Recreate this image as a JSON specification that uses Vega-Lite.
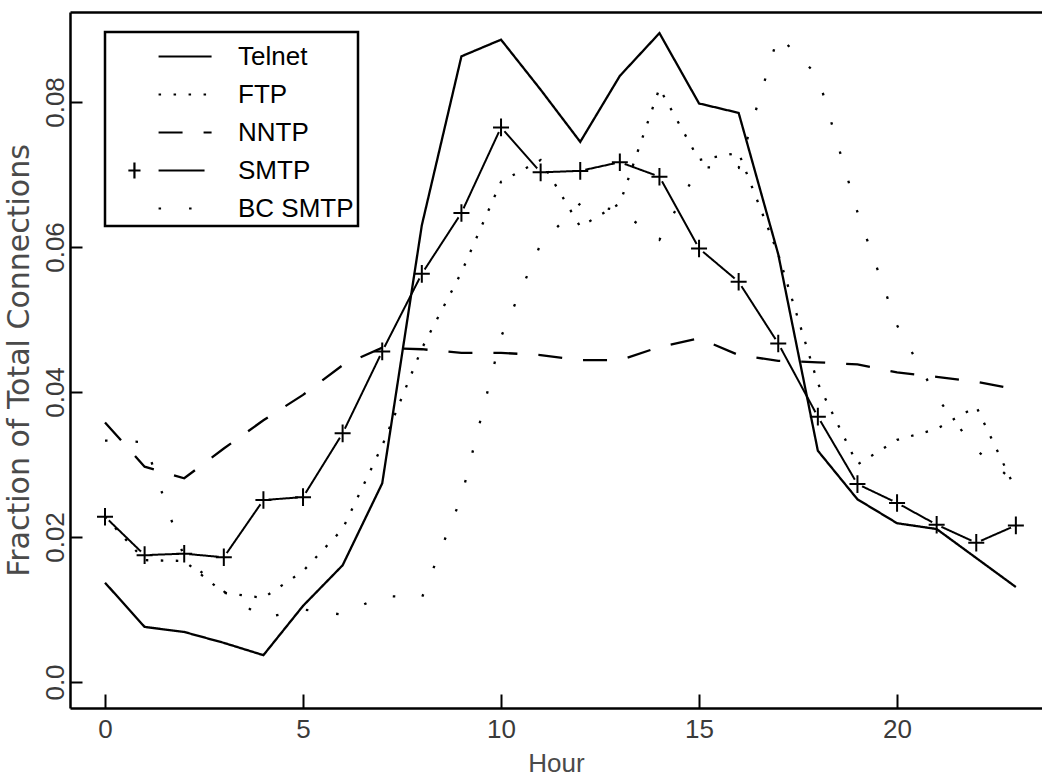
{
  "$schema": "https://vega.github.io/schema/vega-lite/v6.json",
  "width": 972,
  "height": 696,
  "autosize": {"type": "none"},
  "padding": {"left": 70, "top": 12, "right": 0, "bottom": 66},
  "background": "white",
  "config": {
    "view": {"stroke": null},
    "font": "Liberation Sans",
    "axis": {"grid": false, "domainColor": "black", "domainWidth": 2.5, "tickColor": "black", "tickWidth": 2, "labelFont": "Liberation Sans", "labelFontSize": 26, "labelColor": "#3a3a3a", "titleFont": "Liberation Sans", "titleFontWeight": "normal", "titleColor": "#4a4a4a"},
    "legend": {"orient": "none", "legendX": 35, "legendY": 20, "padding": 4, "rowPadding": 4, "labelOffset": 88, "labelFont": "Liberation Sans", "labelFontSize": 26, "labelColor": "black", "labelLimit": 400, "strokeColor": "black", "strokeWidth": 2.5, "symbolSize": 1444, "symbolStrokeWidth": 2.2, "symbolStrokeColor": "black", "title": null}
  },
  "datasets": {
    "traffic": [
      {"h":0,"s":"Telnet","v":0.0137},{"h":1,"s":"Telnet","v":0.0076},{"h":2,"s":"Telnet","v":0.0069},{"h":3,"s":"Telnet","v":0.0054},{"h":4,"s":"Telnet","v":0.0037},{"h":5,"s":"Telnet","v":0.0105},{"h":6,"s":"Telnet","v":0.0161},{"h":7,"s":"Telnet","v":0.0274},{"h":8,"s":"Telnet","v":0.063},{"h":9,"s":"Telnet","v":0.0863},{"h":10,"s":"Telnet","v":0.0886},{"h":11,"s":"Telnet","v":0.0817},{"h":12,"s":"Telnet","v":0.0745},{"h":13,"s":"Telnet","v":0.0836},{"h":14,"s":"Telnet","v":0.0895},{"h":15,"s":"Telnet","v":0.0798},{"h":16,"s":"Telnet","v":0.0785},{"h":17,"s":"Telnet","v":0.059},{"h":18,"s":"Telnet","v":0.0319},{"h":19,"s":"Telnet","v":0.0252},{"h":20,"s":"Telnet","v":0.0219},{"h":21,"s":"Telnet","v":0.0211},{"h":22,"s":"Telnet","v":0.0171},{"h":23,"s":"Telnet","v":0.0131},
      {"h":0,"s":"FTP","v":0.0228},{"h":1,"s":"FTP","v":0.0168},{"h":2,"s":"FTP","v":0.0167},{"h":3,"s":"FTP","v":0.0123},{"h":4,"s":"FTP","v":0.0116},{"h":5,"s":"FTP","v":0.0153},{"h":6,"s":"FTP","v":0.0211},{"h":7,"s":"FTP","v":0.0326},{"h":8,"s":"FTP","v":0.046},{"h":9,"s":"FTP","v":0.0565},{"h":10,"s":"FTP","v":0.069},{"h":11,"s":"FTP","v":0.072},{"h":12,"s":"FTP","v":0.0628},{"h":13,"s":"FTP","v":0.066},{"h":14,"s":"FTP","v":0.0819},{"h":15,"s":"FTP","v":0.072},{"h":16,"s":"FTP","v":0.073},{"h":17,"s":"FTP","v":0.059},{"h":18,"s":"FTP","v":0.0412},{"h":19,"s":"FTP","v":0.030},{"h":20,"s":"FTP","v":0.0334},{"h":21,"s":"FTP","v":0.0349},{"h":22,"s":"FTP","v":0.038},{"h":23,"s":"FTP","v":0.0265},
      {"h":0,"s":"NNTP","v":0.0358},{"h":1,"s":"NNTP","v":0.0297},{"h":2,"s":"NNTP","v":0.0281},{"h":3,"s":"NNTP","v":0.0322},{"h":4,"s":"NNTP","v":0.0361},{"h":5,"s":"NNTP","v":0.0396},{"h":6,"s":"NNTP","v":0.0437},{"h":7,"s":"NNTP","v":0.0461},{"h":8,"s":"NNTP","v":0.0459},{"h":9,"s":"NNTP","v":0.0454},{"h":10,"s":"NNTP","v":0.0454},{"h":11,"s":"NNTP","v":0.0451},{"h":12,"s":"NNTP","v":0.0444},{"h":13,"s":"NNTP","v":0.0444},{"h":14,"s":"NNTP","v":0.0462},{"h":15,"s":"NNTP","v":0.0474},{"h":16,"s":"NNTP","v":0.0451},{"h":17,"s":"NNTP","v":0.0443},{"h":18,"s":"NNTP","v":0.0441},{"h":19,"s":"NNTP","v":0.0438},{"h":20,"s":"NNTP","v":0.0427},{"h":21,"s":"NNTP","v":0.0421},{"h":22,"s":"NNTP","v":0.0414},{"h":23,"s":"NNTP","v":0.0404},
      {"h":0,"s":"SMTP","v":0.0228},{"h":1,"s":"SMTP","v":0.0175},{"h":2,"s":"SMTP","v":0.0177},{"h":3,"s":"SMTP","v":0.0172},{"h":4,"s":"SMTP","v":0.0251},{"h":5,"s":"SMTP","v":0.0255},{"h":6,"s":"SMTP","v":0.0343},{"h":7,"s":"SMTP","v":0.0456},{"h":8,"s":"SMTP","v":0.0563},{"h":9,"s":"SMTP","v":0.0647},{"h":10,"s":"SMTP","v":0.0765},{"h":11,"s":"SMTP","v":0.0703},{"h":12,"s":"SMTP","v":0.0705},{"h":13,"s":"SMTP","v":0.0717},{"h":14,"s":"SMTP","v":0.0697},{"h":15,"s":"SMTP","v":0.0598},{"h":16,"s":"SMTP","v":0.0552},{"h":17,"s":"SMTP","v":0.0467},{"h":18,"s":"SMTP","v":0.0366},{"h":19,"s":"SMTP","v":0.0273},{"h":20,"s":"SMTP","v":0.0247},{"h":21,"s":"SMTP","v":0.0217},{"h":22,"s":"SMTP","v":0.0192},{"h":23,"s":"SMTP","v":0.0216},
      {"h":0,"s":"BC SMTP","v":0.0333},{"h":1,"s":"BC SMTP","v":0.0331},{"h":2,"s":"BC SMTP","v":0.0172},{"h":3,"s":"BC SMTP","v":0.0125},{"h":4,"s":"BC SMTP","v":0.0088},{"h":5,"s":"BC SMTP","v":0.0100},{"h":6,"s":"BC SMTP","v":0.0093},{"h":7,"s":"BC SMTP","v":0.0119},{"h":8,"s":"BC SMTP","v":0.0116},{"h":9,"s":"BC SMTP","v":0.0255},{"h":10,"s":"BC SMTP","v":0.0476},{"h":11,"s":"BC SMTP","v":0.0604},{"h":12,"s":"BC SMTP","v":0.066},{"h":13,"s":"BC SMTP","v":0.065},{"h":14,"s":"BC SMTP","v":0.061},{"h":15,"s":"BC SMTP","v":0.071},{"h":16,"s":"BC SMTP","v":0.0709},{"h":17,"s":"BC SMTP","v":0.0892},{"h":18,"s":"BC SMTP","v":0.0836},{"h":19,"s":"BC SMTP","v":0.0648},{"h":20,"s":"BC SMTP","v":0.0492},{"h":21,"s":"BC SMTP","v":0.0393},{"h":22,"s":"BC SMTP","v":0.032},{"h":23,"s":"BC SMTP","v":0.0275}
    ]
  },
  "data": {"name": "traffic"},
  "resolve": {"axis": {"x": "independent"}},
  "layer": [
    {
      "transform": [{"filter": "datum.s == 'SMTP'"}],
      "mark": {"type": "line", "color": "black", "strokeWidth": 2, "strokeCap": "butt"},
      "encoding": {
        "x": {"field": "h", "type": "quantitative", "scale": {"domain": [-0.884, 23.66], "nice": false, "zero": false},
          "axis": {"orient": "bottom", "values": [0, 5, 10, 15, 20], "tickSize": -14, "labelPadding": 22, "title": "Hour", "titleFontSize": 26, "titlePadding": 8}},
        "y": {"field": "v", "type": "quantitative", "scale": {"domain": [-0.003586, 0.092414], "nice": false, "zero": false},
          "axis": {"values": [0, 0.02, 0.04, 0.06, 0.08], "tickSize": -12, "labelPadding": 14, "labelAngle": 270, "labelAlign": "center", "labelBaseline": "bottom", "labelExpr": "datum.value == 0 ? '0.0' : format(datum.value, '.2f')", "title": "Fraction of Total Connections", "titleFont": "DejaVu Sans", "titleFontSize": 30, "titlePadding": 8}},
        "strokeDash": {"field": "s", "type": "nominal",
          "scale": {"domain": ["Telnet", "FTP", "NNTP", "SMTP", "BC SMTP"], "range": [[1, 0], [2.5, 12.5], [24, 21], [1, 0], [2.5, 28]]},
          "legend": {"orient": "none", "legendX": 35, "legendY": 20, "title": null}}
      }
    },
    {
      "transform": [{"filter": "datum.s == 'SMTP'"}],
      "mark": {"type": "point", "shape": "circle", "filled": true, "color": "white", "opacity": 1, "size": 110},
      "encoding": {
        "x": {"field": "h", "type": "quantitative", "axis": null},
        "y": {"field": "v", "type": "quantitative"}
      }
    },
    {
      "transform": [{"filter": "datum.s != 'SMTP'"}],
      "mark": {"type": "line", "color": "black", "strokeWidth": 2.3, "strokeCap": "butt"},
      "encoding": {
        "x": {"field": "h", "type": "quantitative", "axis": null},
        "y": {"field": "v", "type": "quantitative"},
        "strokeDash": {"field": "s", "type": "nominal"}
      }
    },
    {
      "transform": [{"filter": "datum.s == 'SMTP'"}],
      "mark": {"type": "point", "shape": "M-1,0L1,0M0,-1.1L0,1.1", "filled": false, "color": "black", "opacity": 1, "strokeWidth": 2, "size": 256},
      "encoding": {
        "x": {"field": "h", "type": "quantitative", "axis": null},
        "y": {"field": "v", "type": "quantitative"}
      }
    },
    {
      "transform": [{"filter": "false"}],
      "mark": {"type": "point", "filled": false, "color": "black", "opacity": 1},
      "encoding": {
        "x": {"field": "h", "type": "quantitative", "axis": {"orient": "top", "ticks": false, "labels": false, "title": null, "domain": true}},
        "y": {"field": "v", "type": "quantitative"},
        "shape": {"field": "s", "type": "nominal",
          "scale": {"domain": ["Telnet", "FTP", "NNTP", "SMTP", "BC SMTP"], "range": ["M1.53,0L4.32,0", "M1.53,0L4.32,0", "M1.53,0L4.32,0", "M0.26,-0.42L0.26,0.42M-0.06,0L0.58,0M1.53,0L3.95,0", "M1.53,0L4.32,0"]},
          "legend": {"orient": "none", "legendX": 35, "legendY": 20, "title": null}}
      }
    }
  ]
}
